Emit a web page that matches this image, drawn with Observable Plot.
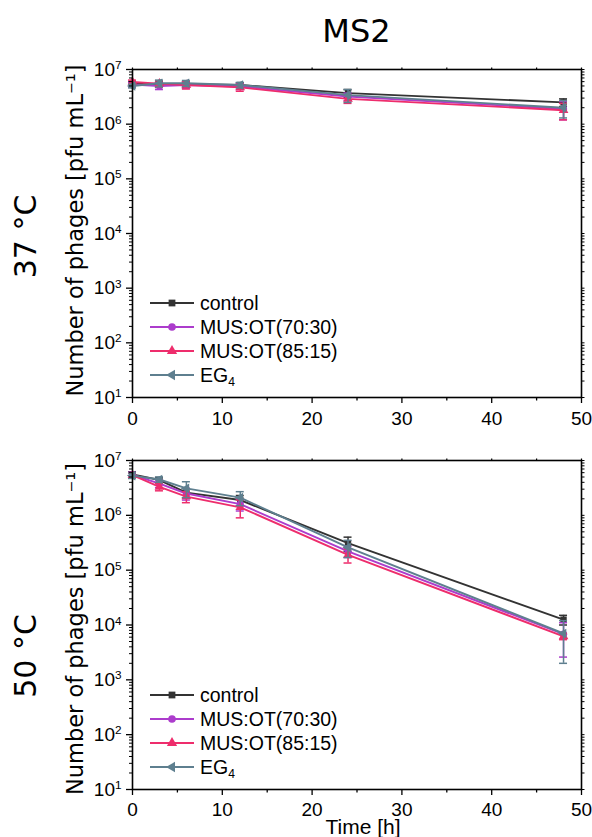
<!DOCTYPE html>
<html><head><meta charset="utf-8">
<script src="https://cdn.jsdelivr.net/npm/d3@7"></script>
<script src="https://cdn.jsdelivr.net/npm/@observablehq/plot@0.6"></script>
<style>
body{margin:0;background:#fff;}
#root{position:relative;width:592px;height:837px;overflow:hidden;background:#fff;}
#title{position:absolute;left:132px;width:449px;top:15px;text-align:center;font-family:"DejaVu Sans",sans-serif;font-size:32px;line-height:1;color:#000;}
.panel{position:absolute;left:0;}
</style></head><body>
<div id="root"><div id="title">MS2</div></div>
<script>
// ---- data ----
const times = [0, 3, 6, 12, 24, 48];
const seriesNames = ["control", "MUS:OT(70:30)", "MUS:OT(85:15)", "EG4"];
const panelLabels = ["37 °C", "50 °C"];
const xTicks = [0, 10, 20, 30, 40, 50];
const xMinorTicks = [5, 15, 25, 35, 45];
const yTicks = [1e1, 1e2, 1e3, 1e4, 1e5, 1e6, 1e7];

// 37 °C
const t37_control     = [5.5e6, 5.3e6, 5.4e6, 5.2e6, 3.7e6, 2.5e6];
const t37_control_err = [0.5e6, 0.6e6, 0.6e6, 0.5e6, 0.6e6, 0.4e6];
const t37_mus7030     = [5.3e6, 5.0e6, 5.2e6, 4.9e6, 3.2e6, 1.9e6];
const t37_mus7030_err = [0.5e6, 0.7e6, 0.7e6, 0.6e6, 0.5e6, 0.7e6];
const t37_mus8515     = [5.9e6, 5.5e6, 5.2e6, 4.7e6, 2.9e6, 1.8e6];
const t37_mus8515_err = [0.5e6, 0.7e6, 0.8e6, 0.7e6, 0.5e6, 0.6e6];
const t37_eg4         = [5.0e6, 5.6e6, 5.6e6, 5.2e6, 3.4e6, 2.0e6];
const t37_eg4_err     = [0.4e6, 0.8e6, 0.7e6, 0.6e6, 0.9e6, 0.7e6];

// 50 °C
const t50_control     = [5.6e6, 4.4e6, 2.6e6, 1.9e6, 3.1e5, 1.25e4];
const t50_control_err = [0.6e6, 0.5e6, 0.5e6, 0.4e6, 0.9e5, 0.25e4];
const t50_mus7030     = [5.5e6, 3.8e6, 2.5e6, 1.6e6, 2.2e5, 6.8e3];
const t50_mus7030_err = [0.6e6, 0.6e6, 0.6e6, 0.4e6, 0.5e5, 4.2e3];
const t50_mus8515     = [5.4e6, 3.3e6, 2.2e6, 1.4e6, 1.9e5, 6.2e3];
const t50_mus8515_err = [0.5e6, 0.5e6, 0.5e6, 0.5e6, 0.55e5, 0.8e3];
const t50_eg4         = [5.3e6, 4.5e6, 3.1e6, 2.1e6, 2.6e5, 7.0e3];
const t50_eg4_err     = [0.6e6, 0.5e6, 1.0e6, 0.6e6, 0.9e5, 5.0e3];

// ---- styles ----
const seriesColors = ["#333333", "#ac3ccc", "#ee2d6c", "#5e7f8f"];
const sqrt3 = Math.sqrt(3);
const leftTriangle = {
  draw(context, size) {
    const y = -Math.sqrt(size / (sqrt3 * 3));
    context.moveTo(y * 2, 0);
    context.lineTo(-y, sqrt3 * y);
    context.lineTo(-y, -sqrt3 * y);
    context.closePath();
  }
};
const seriesSymbols = ["square", "circle", "triangle", leftTriangle];
const d3Symbols = [d3.symbolSquare, d3.symbolCircle, d3.symbolTriangle, leftTriangle];

const panels = [
  {label: panelLabels[0], values: [t37_control, t37_mus7030, t37_mus8515, t37_eg4],
   errs: [t37_control_err, t37_mus7030_err, t37_mus8515_err, t37_eg4_err],
   top: 55, height: 370, marginTop: 14, marginBottom: 28, labelDy: 3, yLabelDy: -3, timeLabel: false, tickPad: 8},
  {label: panelLabels[1], values: [t50_control, t50_mus7030, t50_mus8515, t50_eg4],
   errs: [t50_control_err, t50_mus7030_err, t50_mus8515_err, t50_eg4_err],
   top: 425, height: 412, marginTop: 35, marginBottom: 48, labelDy: 31, yLabelDy: 4, timeLabel: true, tickPad: 7}
];

const yMinor = [];
for (let e = 1; e < 7; e++) for (let k = 2; k <= 9; k++) yMinor.push(k * 10 ** e);

const root = document.getElementById("root");

for (const p of panels) {
  const marks = [];
  seriesNames.forEach((name, i) => {
    const rows = times.map((t, j) => ({t, v: p.values[i][j], lo: p.values[i][j] - p.errs[i][j], hi: p.values[i][j] + p.errs[i][j]}));
    const color = seriesColors[i];
    marks.push(Plot.ruleX(rows, {x: "t", y1: "lo", y2: "hi", stroke: color, strokeWidth: 1.5}));
    marks.push(Plot.ruleY(rows, {y: "lo", x1: "t", x2: "t", insetLeft: -4, insetRight: -4, stroke: color, strokeWidth: 1.5}));
    marks.push(Plot.ruleY(rows, {y: "hi", x1: "t", x2: "t", insetLeft: -4, insetRight: -4, stroke: color, strokeWidth: 1.5}));
    marks.push(Plot.line(rows, {x: "t", y: "v", stroke: color, strokeWidth: 1.9}));
    marks.push(Plot.dot(rows, {x: "t", y: "v", symbol: seriesSymbols[i], fill: color, stroke: "none", r: 3.6}));
  });
  marks.push(
    Plot.frame({stroke: "#000", strokeWidth: 1.6}),
    Plot.axisX({ticks: xTicks, tickSize: 6, tickPadding: p.tickPad, tickFormat: d => String(d), label: null, strokeWidth: 1.3}),
    Plot.axisX(xMinorTicks, {tickSize: 3.5, tickFormat: () => "", label: null, strokeWidth: 1.3}),
    Plot.axisX(xTicks.concat(xMinorTicks), {anchor: "top", tickSize: 2.5, tickFormat: () => "", label: null, strokeWidth: 1.2}),
    Plot.axisY({ticks: yTicks, tickSize: 6, tickPadding: 5, tickFormat: d => "10^" + Math.round(Math.log10(d)), label: null, strokeWidth: 1.3}),
    Plot.axisY(yMinor, {tickSize: 3, tickFormat: () => "", label: null, strokeWidth: 1}),
    Plot.axisY(yTicks.concat(yMinor), {anchor: "right", tickSize: 2.5, tickFormat: () => "", label: null, strokeWidth: 1}),
    Plot.text([p.label], {frameAnchor: "left", text: d => d, rotate: -90, textAnchor: "middle", lineAnchor: "middle", dx: -106, dy: p.labelDy, fontSize: 30, fontFamily: "DejaVu Sans", fill: "#000"}),
    Plot.text(["Number of phages [pfu mL⁻¹]"], {frameAnchor: "left", text: d => d, rotate: -90, textAnchor: "middle", lineAnchor: "middle", dx: -57, dy: p.yLabelDy, fontSize: 22.5, fontFamily: "DejaVu Sans", fill: "#000"})
  );
  if (p.timeLabel) {
    marks.push(Plot.text(["Time [h]"], {frameAnchor: "bottom", text: d => d, textAnchor: "middle", lineAnchor: "middle", dx: 6, dy: 38, fontSize: 21, fill: "#000"}));
  }
  const svg = Plot.plot({
    width: 592, height: p.height,
    marginLeft: 132, marginRight: 11, marginTop: p.marginTop, marginBottom: p.marginBottom,
    x: {domain: [0, 50]},
    y: {type: "log", domain: [10, 1e7]},
    style: {fontFamily: "'Liberation Sans', Arial, sans-serif", fontSize: "19px", color: "#000", background: "transparent", overflow: "visible"},
    marks
  });
  // superscripts on y tick labels
  svg.querySelectorAll("text").forEach(el => {
    const s = el.textContent;
    if (s.startsWith("10^")) {
      const exp = s.slice(3);
      el.textContent = "";
      const ns = "http://www.w3.org/2000/svg";
      const a = document.createElementNS(ns, "tspan"); a.textContent = "10";
      const b = document.createElementNS(ns, "tspan"); b.textContent = exp;
      b.setAttribute("dy", "-0.55em"); b.setAttribute("font-size", "0.62em");
      el.appendChild(a); el.appendChild(b);
    }
  });
  // legend
  const frameBottom = p.height - p.marginBottom;
  const g = d3.select(svg).append("g")
    .attr("font-family", "'Liberation Sans', Arial, sans-serif")
    .attr("font-size", 19.5)
    .attr("text-anchor", "start");
  const rowOffsets = [-94, -70, -46, -22];
  seriesNames.forEach((name, i) => {
    const y = frameBottom + rowOffsets[i];
    g.append("line").attr("x1", 150).attr("x2", 194).attr("y1", y).attr("y2", y).attr("stroke", seriesColors[i]).attr("stroke-width", 1.9);
    g.append("path").attr("transform", `translate(172,${y})`).attr("d", d3.symbol(d3Symbols[i], 46)()).attr("fill", seriesColors[i]);
    const t = g.append("text").attr("x", 200).attr("y", y).attr("dy", "0.35em").attr("fill", "#000").attr("text-anchor", "start");
    if (name === "EG4") {
      t.append("tspan").text("EG");
      t.append("tspan").text("4").attr("font-size", "0.62em").attr("dy", "0.35em");
    } else {
      t.text(name);
    }
  });
  svg.classList.add("panel");
  svg.style.position = "absolute";
  svg.style.top = p.top + "px";
  svg.style.left = "0px";
  root.appendChild(svg);
}
</script>
</body></html>
